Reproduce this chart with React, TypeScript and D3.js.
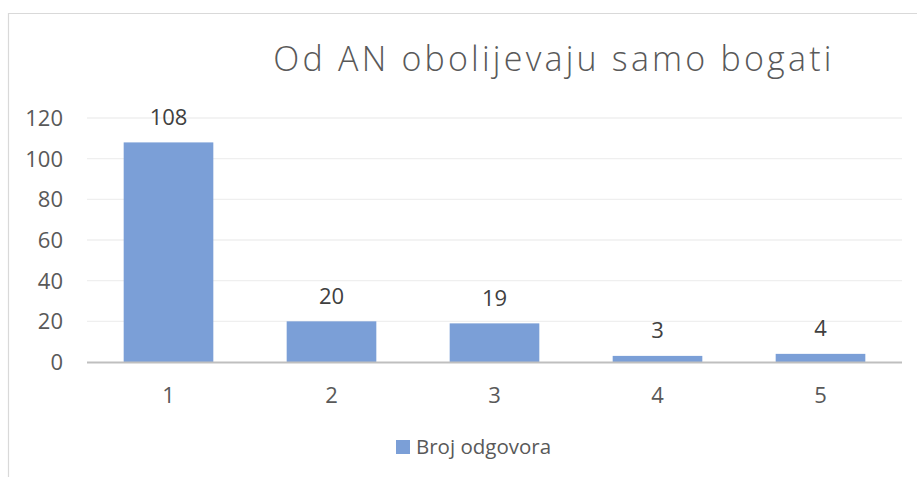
import { useMemo } from "react";
import * as d3 from "d3";

const categories = ["1", "2", "3", "4", "5"];
const values = [108, 20, 19, 3, 4];
const yTicks = [0, 20, 40, 60, 80, 100, 120];
const seriesName = "Broj odgovora";
const title = "Od AN obolijevaju samo bogati";

const WIDTH = 917;
const HEIGHT = 477;
const PLOT = { left: 87, right: 902, top: 118, bottom: 362 };
const BAR_COLOR = "#7b9fd7";
const TEXT_COLOR = "#595959";
const FONT = "'Open Sans', sans-serif";

const App = () => {
  const xScale = useMemo(
    () =>
      d3
        .scaleBand()
        .domain(categories)
        .range([PLOT.left, PLOT.right])
        .paddingInner(0.45)
        .paddingOuter(0.225),
    []
  );
  const yScale = useMemo(
    () => d3.scaleLinear().domain([0, 120]).range([PLOT.bottom, PLOT.top]),
    []
  );

  return (
    <svg
      width={WIDTH}
      height={HEIGHT}
      style={{ position: "absolute", left: 0, top: 0 }}
      fontFamily={FONT}
    >
      <rect width={WIDTH} height={HEIGHT} fill="#fff" />
      {/* chart frame, cut off at right and bottom */}
      <path d={`M8.5,${HEIGHT} V13.5 H${WIDTH}`} fill="none" stroke="#d9d9d9" strokeWidth={1.2} />

      <text
        x={554}
        y={71}
        textAnchor="middle"
        fontSize={34}
        fontWeight={300}
        letterSpacing={3.2}
        fill={TEXT_COLOR}
      >
        {title}
      </text>

      {yTicks.map((t) => (
        <g key={t}>
          {t > 0 && (
            <line
              x1={PLOT.left}
              x2={PLOT.right}
              y1={yScale(t)}
              y2={yScale(t)}
              stroke="#efefef"
              strokeWidth={1.3}
            />
          )}
          <text
            x={63}
            y={yScale(t)}
            dy="0.36em"
            textAnchor="end"
            fontSize={22}
            fill={TEXT_COLOR}
          >
            {t}
          </text>
        </g>
      ))}

      {values.map((v, i) => {
        const x = xScale(categories[i]) ?? 0;
        return (
          <g key={i}>
            <rect
              x={x}
              y={yScale(v)}
              width={xScale.bandwidth()}
              height={PLOT.bottom - yScale(v)}
              fill={BAR_COLOR}
            />
            <text
              x={x + xScale.bandwidth() / 2}
              y={yScale(v) - 17.5}
              textAnchor="middle"
              fontSize={22}
              fill="#404040"
            >
              {v}
            </text>
            <text
              x={x + xScale.bandwidth() / 2}
              y={395}
              dy="0.36em"
              textAnchor="middle"
              fontSize={22}
              fill={TEXT_COLOR}
            >
              {categories[i]}
            </text>
          </g>
        );
      })}

      <line
        x1={PLOT.left}
        x2={PLOT.right}
        y1={PLOT.bottom + 0.5}
        y2={PLOT.bottom + 0.5}
        stroke="#bfbfbf"
        strokeWidth={2}
      />

      <rect x={396} y={440} width={14} height={14} fill={BAR_COLOR} />
      <text x={416} y={447} dy="0.36em" fontSize={20.5} fill={TEXT_COLOR}>
        {seriesName}
      </text>
    </svg>
  );
};

export default App;
